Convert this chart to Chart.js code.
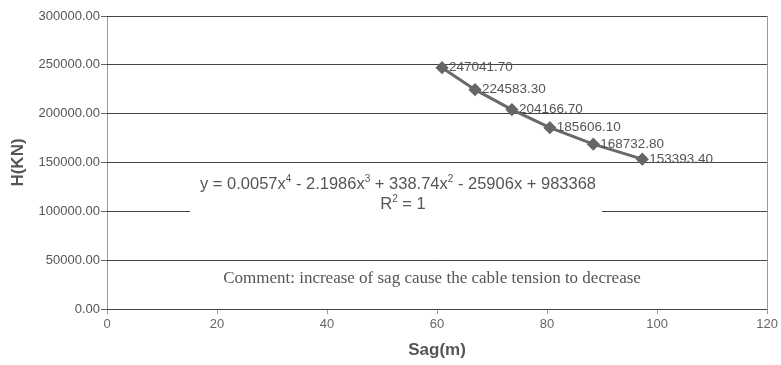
<!DOCTYPE html>
<html>
<head>
<meta charset="utf-8">
<script src="https://cdn.jsdelivr.net/npm/chart.js@4"></script>
<style>
  html, body { margin: 0; padding: 0; background: #fff; }
  #wrap { width: 781px; height: 365px; }
</style>
</head>
<body>
<div id="wrap"><canvas id="sag-chart" width="781" height="365"></canvas></div>
<script>
// Sag (m) against horizontal cable tension H (kN)
const sagValues = [60.9, 66.9, 73.6, 80.5, 88.4, 97.3];
const tensionValues = [247041.70, 224583.30, 204166.70, 185606.10, 168732.80, 153393.40];
const xTicks = [0, 20, 40, 60, 80, 100, 120];
const yTicks = [0, 50000, 100000, 150000, 200000, 250000, 300000];

const eqParts = [
    ['y = 0.0057x', ''], ['4', 'sup'], [' - 2.1986x', ''], ['3', 'sup'],
    [' + 338.74x', ''], ['2', 'sup'], [' - 25906x + 983368', '']
];
const rParts = [['R', ''], ['2', 'sup'], [' = 1', '']];
const comment = 'Comment: increase of sag cause the cable tension to decrease';

const textGray = '#555';

function drawRich(ctx, parts, cx, y, size) {
    const base = size + 'px "Liberation Sans", Arial, sans-serif';
    const small = Math.round(size * 0.6) + 'px "Liberation Sans", Arial, sans-serif';
    let total = 0;
    parts.forEach(([t, k]) => { ctx.font = k ? small : base; total += ctx.measureText(t).width; });
    let x = cx - total / 2;
    ctx.textAlign = 'left';
    ctx.textBaseline = 'alphabetic';
    parts.forEach(([t, k]) => {
        ctx.font = k ? small : base;
        ctx.fillText(t, x, k ? y - size * 0.42 : y);
        x += ctx.measureText(t).width;
    });
}

const notes = {
    id: 'notes',
    beforeDatasetsDraw(chart) {
        const { ctx } = chart;
        // white box behind the trendline equation
        ctx.save();
        ctx.fillStyle = '#fff';
        ctx.fillRect(190, 168, 412, 47);
        ctx.restore();
    },
    afterDatasetsDraw(chart) {
        const { ctx } = chart;
        const meta = chart.getDatasetMeta(0);
        ctx.save();
        ctx.fillStyle = textGray;
        ctx.font = '13.5px "Liberation Sans", Arial, sans-serif';
        ctx.textAlign = 'left';
        ctx.textBaseline = 'middle';
        meta.data.forEach((pt, i) => {
            ctx.fillText(tensionValues[i].toFixed(2), pt.x + 7, pt.y);
        });

        drawRich(ctx, eqParts, 398, 189, 16.5);
        drawRich(ctx, rParts, 403, 209, 16.5);

        ctx.font = '17px "Liberation Serif", "Times New Roman", serif';
        ctx.textAlign = 'center';
        ctx.textBaseline = 'middle';
        ctx.fillText(comment, 432, 279);
        ctx.restore();
    }
};

new Chart(document.getElementById('sag-chart'), {
    type: 'scatter',
    data: {
        datasets: [{
            data: sagValues.map((x, i) => ({ x, y: tensionValues[i] })),
            showLine: true,
            borderColor: '#6a6a6a',
            borderWidth: 3,
            pointStyle: 'rectRot',
            pointRadius: 4.5,
            pointBackgroundColor: '#666',
            pointBorderColor: '#666',
            tension: 0
        }]
    },
    options: {
        responsive: false,
        animation: false,
        layout: { padding: { top: 16, right: 13, left: 0, bottom: 0 } },
        plugins: { legend: { display: false }, tooltip: { enabled: false } },
        scales: {
            x: {
                type: 'linear',
                min: 0, max: 120,
                afterBuildTicks: s => { s.ticks = xTicks.map(v => ({ value: v })); },
                afterFit: s => { s.height = 56; },
                grid: {
                    color: c => (c.tick.value === 0 || c.tick.value === 120) ? '#999' : 'rgba(0,0,0,0)',
                    tickColor: '#999',
                    tickLength: 5
                },
                border: { display: false },
                ticks: { color: '#666', font: { family: '"Liberation Sans", Arial', size: 13 }, padding: 3 },
                title: {
                    display: true, text: 'Sag(m)', color: textGray,
                    font: { family: '"Liberation Sans", Arial', size: 17, weight: 'bold' },
                    padding: { top: 4 }
                }
            },
            y: {
                min: 0, max: 300000,
                afterBuildTicks: s => { s.ticks = yTicks.map(v => ({ value: v })); },
                afterFit: s => { s.width = 107; },
                grid: { color: '#444', tickColor: '#666', tickLength: 6 },
                border: { display: false },
                ticks: {
                    color: textGray,
                    font: { family: '"Liberation Sans", Arial', size: 13 },
                    padding: 1,
                    callback: v => v.toFixed(2)
                },
                title: {
                    display: true, text: 'H(KN)', color: textGray,
                    font: { family: '"Liberation Sans", Arial', size: 17, weight: 'bold' },
                    padding: { top: 8 }
                }
            }
        }
    },
    plugins: [notes]
});
</script>
</body>
</html>
